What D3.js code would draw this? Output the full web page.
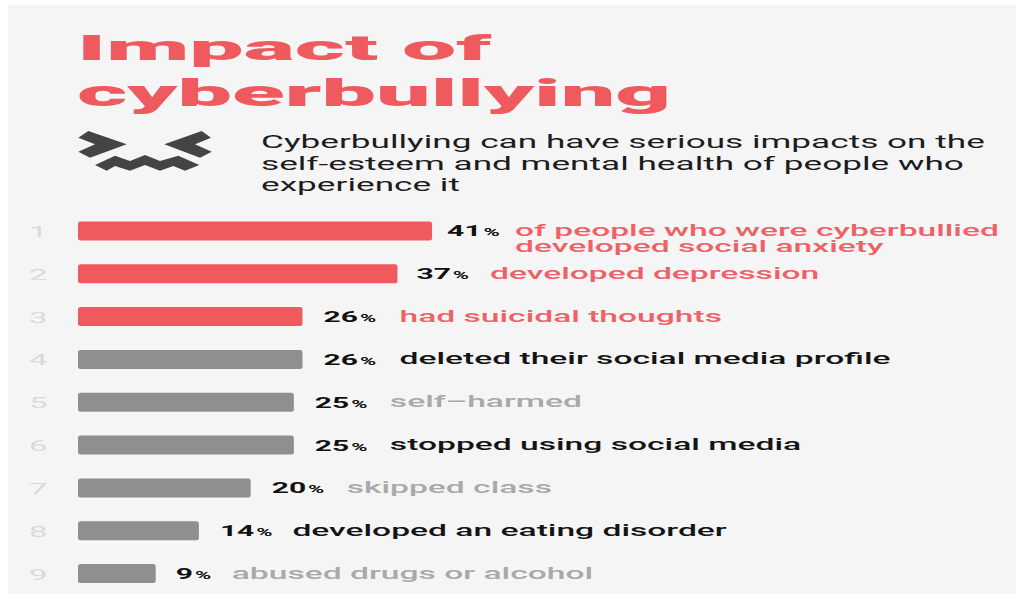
<!DOCTYPE html>
<html><head><meta charset="utf-8">
<script src="https://cdn.jsdelivr.net/npm/d3@7/dist/d3.min.js"></script>
<style>html,body{margin:0;padding:0;background:#fff}svg{display:block}text{font-family:Roboto,sans-serif}</style>
</head><body><svg id="chart" width="1016" height="594"></svg>
<script>
const ranks = [1,2,3,4,5,6,7,8,9];
const percents = [41,37,26,26,25,25,20,14,9];
const outcomes = [
  ["of people who were cyberbullied","developed social anxiety"],
  ["developed depression"],["had suicidal thoughts"],["deleted their social media profile"],
  ["self\u2013harmed"],["stopped using social media"],["skipped class"],
  ["developed an eating disorder"],["abused drugs or alcohol"]];
const tones = ["red","red","red","dark","grey","dark","grey","dark","grey"];
const titleLines = ["Impact of","cyberbullying"];
const introLines = ["Cyberbullying can have serious impacts on the","self-esteem and mental health of people who","experience it"];

const RED="#ef5a5f", BAR_GREY="#8f8f8f";
const barFill = d3.scaleOrdinal(["red","dark","grey"],[RED,BAR_GREY,BAR_GREY]);
const textFill = d3.scaleOrdinal(["red","dark","grey"],["#ee6167","#141414","#a9a9a9"]);

const svg = d3.select("#chart");
svg.append("rect").attr("x",8).attr("y",5).attr("width",1008).attr("height",589).attr("fill","#f5f5f6");

const x = d3.scaleLinear().domain([0,41]).range([78,432]);
const y = d3.scaleBand().domain(ranks).range([209.5,595]).paddingInner(0.558).paddingOuter(0.279);

// Wide-set text: drawn at natural size and stretched horizontally
function wide(sel,px,py,sx){return sel.append("g").attr("transform",`translate(${px},${py}) scale(${sx},1)`);}

titleLines.forEach((t,i)=>{
  wide(svg,77,[60,106][i],[2.68,2.69][i]).append("text").text(t)
    .attr("font-size",36).attr("font-weight",900).attr("fill",RED);
});
introLines.forEach((t,i)=>{
  wide(svg,261,148+i*21.5,1.955).append("text").text(t)
    .attr("font-size",18).attr("fill","#1c1c1c");
});

// Face icon
const face = svg.append("g").attr("fill","#444");
[[[88.3,131],[126.7,144.3],[90,157.7],[78.3,151.7],[95,144.3],[78.3,137.7]],
 [[201.7,131],[164.3,144.3],[200,157.7],[211.7,151.7],[195,144.3],[211,137.7]],
 [[95,165],[115,155.7],[130,161],[145,155],[160,161],[178.3,155.7],[199.3,165],[185,170.7],[173.3,166],[160,170.7],[145,165],[130,170.7],[115,166],[106.7,170.7]]
].forEach(p=>face.append("polygon").attr("points",p.join(" ")));

// Offsets from a bar's end to its percentage and to its description
const pctGaps = [15,19,21,21,21,21,21,21,20];
const descGaps = [83,92.5,97,97,96,96,96,93.5,76];

ranks.forEach((r,i)=>{
  const cy = y(r)+y.bandwidth()/2, end = x(percents[i]);
  wide(svg,29,cy+6,2.2).append("text").text(r).attr("font-size",15).attr("fill","#d9d9d9");
  svg.append("rect").attr("x",x(0)).attr("y",y(r)).attr("width",end-x(0)).attr("height",y.bandwidth())
    .attr("rx",2.5).attr("fill",barFill(tones[i]));
  const t = wide(svg,end+pctGaps[i],cy+5.5,2.0).append("text").attr("fill","#111");
  t.append("tspan").text(percents[i]).attr("font-size",15).attr("font-weight",700);
  t.append("tspan").text("%").attr("font-size",11).attr("font-weight",700).attr("dx",1);
  outcomes[i].forEach((l,k)=>{
    wide(svg,end+descGaps[i],cy+5+k*16,2.037).append("text").text(l)
      .attr("font-size",16.5).attr("font-weight",500).attr("fill",textFill(tones[i]));
  });
});
</script></body></html>
